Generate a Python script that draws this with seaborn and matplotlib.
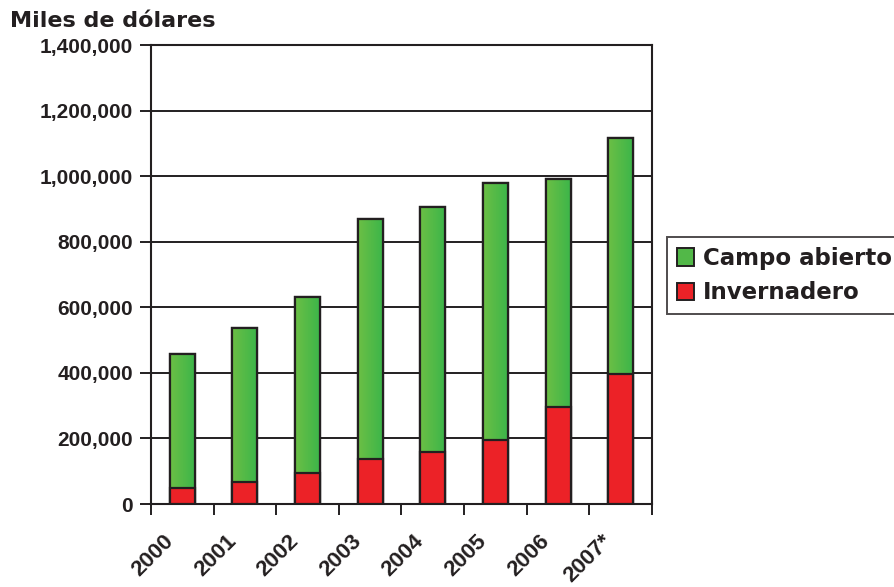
import numpy as np
import pandas as pd
import matplotlib
matplotlib.use("Agg")
import matplotlib.pyplot as plt
import matplotlib.transforms as mtransforms
import seaborn as sns
from matplotlib.ticker import FuncFormatter, FixedLocator
from matplotlib.patches import Patch
from matplotlib.colors import LinearSegmentedColormap

years = ["2000", "2001", "2002", "2003", "2004", "2005", "2006", "2007*"]
invernadero = [50000, 67000, 94000, 138000, 160000, 196000, 297000, 395000]
campo_abierto = [409000, 471000, 538000, 731000, 747000, 784000, 693000, 722000]
yticks = [0, 200000, 400000, 600000, 800000, 1000000, 1200000, 1400000]

totals = [a + b for a, b in zip(invernadero, campo_abierto)]
df = pd.DataFrame({"year": years, "total": totals, "inv": invernadero})

sns.set_theme(style="white")
plt.rcParams["font.family"] = ["Liberation Sans", "DejaVu Sans"]

GREEN = "#52b848"
RED = "#ec2227"
EDGE = "#231f20"

fig = plt.figure(figsize=(8.95, 5.87), dpi=100)
ax = fig.add_axes([151/895, 1-504/587, (652-151)/895, (504-45)/587])

sns.barplot(data=df, x="year", y="total", color=GREEN, width=0.4,
            edgecolor=EDGE, linewidth=1.6, saturation=1, ax=ax, zorder=3)
sns.barplot(data=df, x="year", y="inv", color=RED, width=0.4,
            edgecolor=EDGE, linewidth=1.6, saturation=1, ax=ax, zorder=4)

# gradient fill on green bars
grad = np.linspace(0, 1, 64).reshape(1, -1)
cmap = LinearSegmentedColormap.from_list("g", ["#6cbf45", "#3ab54a"])
for p in ax.containers[0].patches:
    x0, y0 = p.get_x(), p.get_y()
    w, h = p.get_width(), p.get_height()
    im = ax.imshow(grad, cmap=cmap, aspect="auto", extent=[x0, x0 + w, y0, y0 + h],
                   zorder=3.5, interpolation="bilinear")
    im.set_clip_path(p)
    ax.add_patch(plt.Rectangle((x0, y0), w, h, fill=False, edgecolor=EDGE,
                               linewidth=1.6, zorder=3.6))
ax.set_xlim(-0.5, len(years) - 0.5)
ax.set_ylim(0, 1400000)

ax.set_yticks(yticks)
ax.yaxis.set_major_formatter(FuncFormatter(lambda v, p: f"{int(v):,}"))
ax.grid(axis="y", color=EDGE, linewidth=1.4, zorder=0)
ax.set_axisbelow(True)

# x labels: rotated, placed at category centres with a fixed pixel offset
ax.set_xticks(range(len(years)))
ax.set_xticklabels([""] * len(years))
offset = mtransforms.ScaledTranslation(-12/100, -34/100, fig.dpi_scale_trans)
for i, yr in enumerate(years):
    ax.text(i, 0, yr, transform=ax.get_xaxis_transform() + offset,
            rotation=45, ha="right", va="center", rotation_mode="anchor",
            fontsize=16, fontweight="bold", color=EDGE, clip_on=False)
ax.xaxis.set_minor_locator(FixedLocator(np.arange(-0.5, len(years), 1.0)))
ax.tick_params(axis="x", which="major", length=0)
ax.tick_params(axis="x", which="minor", length=8, width=1.4, color=EDGE, direction="out", bottom=True)
ax.tick_params(axis="y", length=8, width=1.4, color=EDGE, direction="out", left=True,
               labelsize=15, pad=5)
for lbl in ax.get_yticklabels():
    lbl.set_fontweight("bold")
    lbl.set_color(EDGE)

for s in ax.spines.values():
    s.set_visible(True)
    s.set_color(EDGE)
    s.set_linewidth(1.5)

ax.set_xlabel("")
ax.set_ylabel("")

fig.text(10/895, 1-27/587, "Miles de dólares", fontsize=16, fontweight="bold",
         color=EDGE, family="DejaVu Sans", ha="left", va="baseline")

handles = [Patch(facecolor=GREEN, edgecolor=EDGE, linewidth=1.4, label="Campo abierto"),
           Patch(facecolor=RED, edgecolor=EDGE, linewidth=1.4, label="Invernadero")]
leg = fig.legend(handles=handles, loc="center left", bbox_to_anchor=(667/895, 1-275.5/587),
                 frameon=True, fancybox=False, handlelength=0.75, handleheight=0.8,
                 handletextpad=0.4, borderpad=0.42, labelspacing=0.5, borderaxespad=0,
                 prop={"family": "DejaVu Sans", "weight": "bold", "size": 16.5})
leg.get_frame().set_edgecolor(EDGE)
leg.get_frame().set_linewidth(1.4)
for t in leg.get_texts():
    t.set_color(EDGE)

fig.savefig("out.png", dpi=100)
